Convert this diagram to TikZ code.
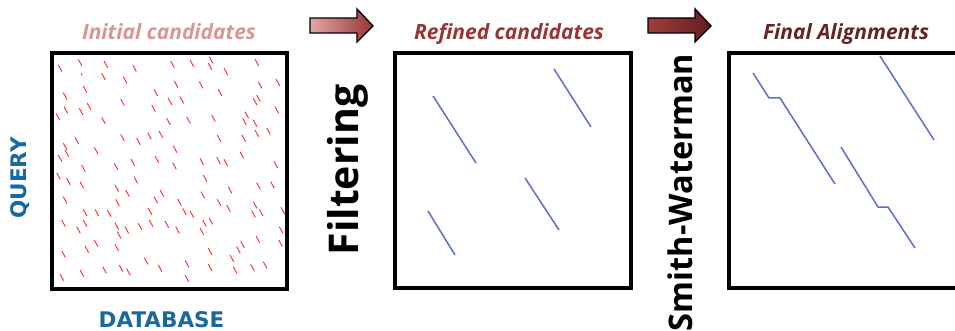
\documentclass[tikz,border=0pt]{standalone}
\usepackage{fontspec}
\newfontfamily\osans{Open Sans}
\newfontfamily\dvs{DejaVu Sans}
\definecolor{qblue}{RGB}{23,105,158}
\definecolor{tpink}{RGB}{217,150,148}
\definecolor{tred}{RGB}{150,55,53}
\definecolor{tdark}{RGB}{99,37,35}
\definecolor{dashred}{RGB}{255,40,40}
\definecolor{alblue}{RGB}{92,110,212}
\definecolor{arA}{RGB}{228,165,165}
\definecolor{arB}{RGB}{150,55,53}
\definecolor{arC}{RGB}{160,62,60}
\definecolor{arD}{RGB}{99,30,30}
\tikzset{
  panel/.style={draw=black, line width=3.3pt},
  cand/.style={draw=dashred, line width=0.9pt},
  aln/.style={draw=alblue, line width=1.5pt, line join=round},
  ttl/.style={font=\osans\bfseries\itshape\fontsize{21}{24}\selectfont, anchor=base},
  stage/.style={font=\osans\bfseries\fontsize{41}{44}\selectfont, anchor=base, rotate=90, inner sep=0pt},
  axlab/.style={font=\dvs\bfseries\fontsize{21.5}{24}\selectfont, text=qblue, anchor=base, inner sep=0pt},
  blockarrow/.style={draw=black, line width=1.4pt, line join=miter}
}
\begin{document}
\begin{tikzpicture}[x=1pt,y=-1pt]
\useasboundingbox (0,0) rectangle (955,331);
\clip (0,0) rectangle (955,331);
\fill[white] (0,0) rectangle (955,331);

% titles
\node[ttl, text=tpink] (t1) at (169,40) {Initial candidates};
\node[ttl, text=tred] (t2) at (509,40) {Refined candidates};
\node[ttl, text=tdark] (t3) at (846,40) {Final Alignments};

% block arrows
\draw[blockarrow, left color=arA, right color=arB]
  (310,18) -- (357,18) -- (357,9) -- (373,26) -- (357,42) -- (357,33) -- (310,33) -- cycle;
\draw[blockarrow, left color=arC, right color=arD]
  (648,18) -- (695,18) -- (695,9) -- (711,26) -- (695,42) -- (695,33) -- (648,33) -- cycle;

% stage labels
\node[stage] (filt) at (358,170) {Filtering};
\node[stage, font=\osans\bfseries\fontsize{32.5}{36}\selectfont] (sw) at (692,192.5) {Smith-Waterman};

% axis labels
\node[axlab, rotate=90] (query) at (27,178) {QUERY};
\node[axlab] (db) at (161.5,327) {DATABASE};

% panel 1 candidates
\foreach \x/\y in {
58.3/65, 78.3/59.3, 104/61, 132.7/65, 170.7/61, 190/60, 209.3/56.7, 208.3/63.3, 224/68.3, 255/59.3,
101.7/73.3, 123.3/76.7, 174.3/81, 199.3/81.7, 258.3/81.7, 276/79, 83.3/86,
63.3/92.7, 154/89.3, 218.3/89.3, 168.3/98.3, 180/96.7, 120.7/99, 253.3/98.3, 256.7/95,
56/113.3, 64/106.7, 79.3/108.3, 87.3/103.3, 151.7/105, 275/106.7, 245/111.7,
101.7/117.3, 166.7/118.3, 186.7/116.7, 211.7/115, 242.7/118.3, 253.3/120,
120.7/134.3, 136.7/138.3, 147.7/132.7, 159/131, 217.3/135, 242/135, 255/130, 266.7/127.7, 75/137.3, 63.3/143.3,
65/150, 94.3/147.3, 173.3/146, 58.3/155, 240/151.7,
155/156, 131/159, 200/158.3, 216.7/157.3, 224/159.3, 81.7/165, 114.3/163.3, 172.7/162.7, 274/161.3,
56.7/172.7, 66.7/178.3, 80/181.7, 134/176.7, 203.3/175, 256.7/182.7, 270.7/181.7,
115/185, 125.7/190, 160/190, 201/191.7, 228.3/186.7,
63.3/196.7, 115.7/199.3, 154/196.7, 177.7/199, 217.3/199.3, 253.3/201.7,
281/207.3, 83.3/209.3, 95/209.3, 107.3/210, 148.3/208.3, 182.7/208.3, 190/211, 226.7/205, 251.7/210.7, 259.3/209.3,
61.7/220, 83.3/220, 76.7/226.7, 115/222.7, 125/226.7, 138.3/223.3, 149.3/220, 165/221, 175.7/226.7, 202.7/220, 209/217.7, 200/228, 279.3/226.7,
117.3/231.7, 94.3/240, 256/236, 236.7/246.7, 240.7/241.3, 278.7/240,
61.7/250.7, 85/246, 115/244.3, 208.3/248.3, 230/255,
144.3/257.7, 119.3/265, 126.7/268.7, 158.3/265, 185.3/260.7, 208.3/264.3, 250.7/264.3, 263.3/261.7, 102.7/266.7,
60/274, 80/270, 185/275, 233.3/266.7}
  {\draw[cand] (\x,\y) -- ++(3.6,6.6);}
\draw[cand] (81,73.3) -- ++(1.2,2.2);

% panel 2 refined
\draw[aln] (433,96) -- (476,163);
\draw[aln] (554,69) -- (591,127);
\draw[aln] (525,178) -- (559,230);
\draw[aln] (428,211) -- (455,255);

% panel 3 final
\draw[aln] (753,73) -- (769,98) -- (780,98) -- (835,184);
\draw[aln] (880,56) -- (934,140);
\draw[aln] (841,147) -- (878,207) -- (888,207) -- (915,248);

% panels
\draw[panel] (52,53) rectangle (287,289);
\draw[panel] (395,53) rectangle (631,288);
\draw[panel] (729,53) rectangle (975,288);
\end{tikzpicture}
\end{document}
